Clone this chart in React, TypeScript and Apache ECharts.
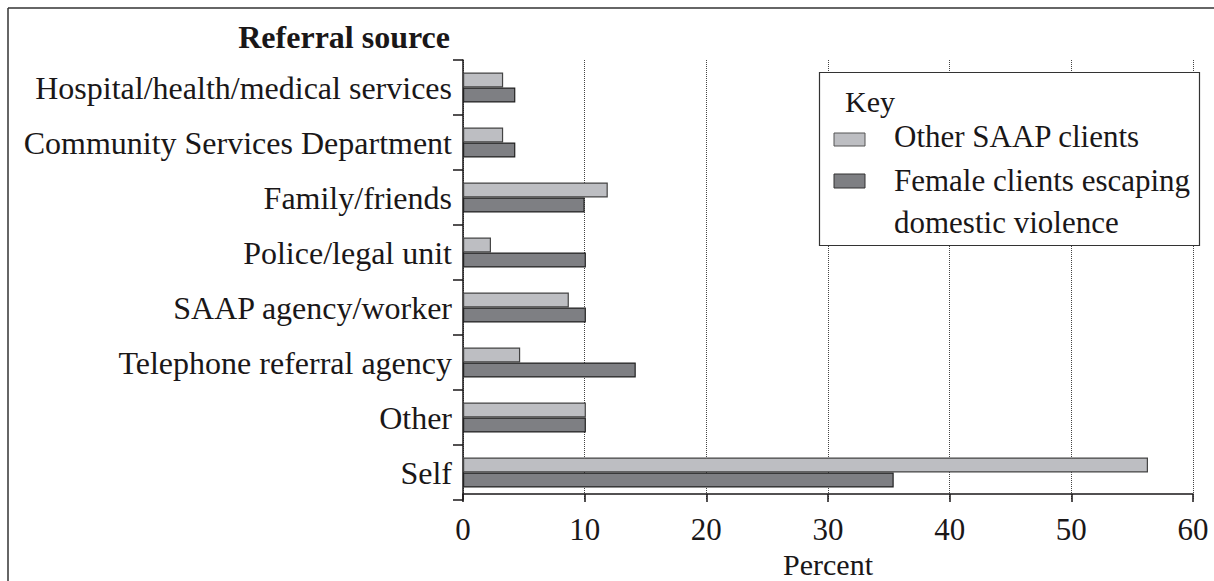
import React, { useEffect, useRef } from "react";
import * as echarts from "echarts";

const categories = [
  "Hospital/health/medical services",
  "Community Services Department",
  "Family/friends",
  "Police/legal unit",
  "SAAP agency/worker",
  "Telephone referral agency",
  "Other",
  "Self",
];
const seriesNames = ["Other SAAP clients", "Female clients escaping\ndomestic violence"];
const otherSaapClients = [3.3, 3.3, 11.9, 2.3, 8.7, 4.7, 10.1, 56.3];
const femaleDomesticViolence = [4.3, 4.3, 10.0, 10.1, 10.1, 14.2, 10.1, 35.4];
const xMin = 0;
const xMax = 60;
const xInterval = 10;

const LIGHT = "#bdbec2";
const DARK = "#7e7f83";
const INK = "#1a1718";
const FONT = "'Liberation Serif', 'Times New Roman', serif";

export default function App() {
  const ref = useRef<HTMLDivElement>(null);
  useEffect(() => {
    if (!ref.current) return;
    const chart = echarts.init(ref.current, null, { renderer: "svg" });
    chart.setOption({
      animation: false,
      backgroundColor: "#ffffff",
      textStyle: { fontFamily: FONT, color: INK },
      grid: {
        left: 463,
        right: 21,
        top: 60,
        bottom: 81,
        containLabel: false,
        outerBoundsMode: "none",
      },
      xAxis: {
        type: "value",
        min: xMin,
        max: xMax,
        interval: xInterval,
        offset: -6,
        name: "Percent",
        nameLocation: "middle",
        nameGap: 53,
        nameTextStyle: { fontFamily: FONT, fontSize: 30, color: INK, lineHeight: 30 },
        axisLine: { show: true, lineStyle: { color: INK, width: 1.5 } },
        axisTick: { show: true, length: 8, lineStyle: { color: INK, width: 1.5 } },
        axisLabel: { fontFamily: FONT, fontSize: 31, color: INK, margin: 20 },
        splitLine: { show: true, lineStyle: { color: "#444", width: 1, type: "dotted" } },
      },
      yAxis: {
        type: "category",
        data: categories,
        inverse: true,
        axisLine: { show: true, lineStyle: { color: INK, width: 1.5 } },
        axisTick: { show: true, length: 10, lineStyle: { color: INK, width: 1.5 } },
        axisLabel: { fontFamily: FONT, fontSize: 32, color: INK, margin: 11 },
        splitLine: { show: false },
      },
      series: [
        {
          name: seriesNames[0],
          type: "bar",
          data: otherSaapClients,
          barWidth: 15,
          barGap: "0%",
          itemStyle: { color: LIGHT, borderColor: "#444", borderWidth: 1.2 },
        },
        {
          name: seriesNames[1],
          type: "bar",
          data: femaleDomesticViolence,
          barWidth: 15,
          barGap: "0%",
          itemStyle: { color: DARK, borderColor: "#222", borderWidth: 1.2 },
        },
      ],
      graphic: [
        { type: "line", z: 100, shape: { x1: 8, y1: 8, x2: 1214, y2: 8 }, style: { stroke: "#333", lineWidth: 1.5 } },
        { type: "line", z: 100, shape: { x1: 8, y1: 8, x2: 8, y2: 581 }, style: { stroke: "#333", lineWidth: 1.5 } },
        {
          type: "text",
          z: 100,
          x: 450,
          y: 37,
          style: {
            text: "Referral source",
            font: `bold 32px ${FONT}`,
            fill: INK,
            textAlign: "right",
            textVerticalAlign: "middle",
          },
        },
        {
          type: "rect",
          z: 100,
          shape: { x: 819.5, y: 72.5, width: 380, height: 173 },
          style: { fill: "#ffffff", stroke: "#333", lineWidth: 1.2 },
        },
        {
          type: "text",
          z: 101,
          x: 845,
          y: 101,
          style: { text: "Key", font: `30px ${FONT}`, fill: INK, textVerticalAlign: "middle" },
        },
        {
          type: "rect",
          z: 101,
          shape: { x: 834, y: 133, width: 31, height: 13 },
          style: { fill: LIGHT, stroke: "#555", lineWidth: 1 },
        },
        {
          type: "text",
          z: 101,
          x: 894,
          y: 136,
          style: { text: seriesNames[0], font: `31px ${FONT}`, fill: INK, textVerticalAlign: "middle" },
        },
        {
          type: "rect",
          z: 101,
          shape: { x: 834, y: 174, width: 31, height: 14 },
          style: { fill: DARK, stroke: "#333", lineWidth: 1 },
        },
        {
          type: "text",
          z: 101,
          x: 894,
          y: 159,
          style: {
            text: seriesNames[1],
            font: `31px ${FONT}`,
            fill: INK,
            lineHeight: 42,
            textVerticalAlign: "top",
          },
        },
      ],
    });
    return () => chart.dispose();
  }, []);
  return (
    <div
      ref={ref}
      style={{ position: "absolute", left: 0, top: 0, width: 1214, height: 581 }}
    />
  );
}
